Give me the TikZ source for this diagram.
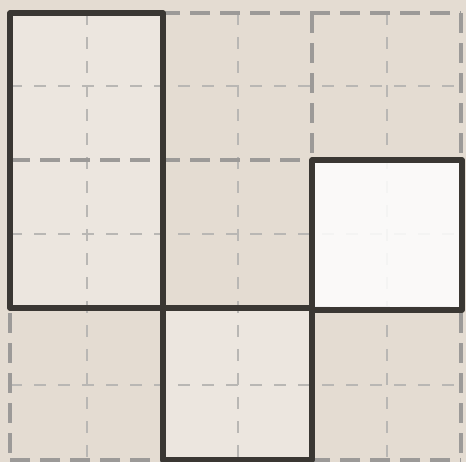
\documentclass[tikz,border=0pt]{standalone}
\usepackage{tikz}
\usepackage{xcolor}
\definecolor{paper}{HTML}{E4DCD2}
\definecolor{ink}{HTML}{3A3733}
\definecolor{gridgray}{HTML}{9C9A98}
\definecolor{finegray}{HTML}{B9B7B4}

\begin{document}
\begin{tikzpicture}[x=0.5mm, y=-0.5mm,
    coarse/.style={gridgray, line width=6pt, dash pattern=on 10mm off 5mm},
    fine/.style={finegray, line width=3pt, dash pattern=on 6mm off 6mm},
    piece/.style={ink, line width=8pt, line join=round, line cap=round}]
    \fill[paper] (0,0) rectangle (466,462);
    \useasboundingbox (0,0) rectangle (466,462);
    \fill[white, opacity=0.3] (10,13) rectangle (163,308);
    \fill[white, opacity=0.3] (163,308) rectangle (312,460);
    \foreach \x in {87,238,387}
        \draw[fine] (\x,13) -- (\x,460);
    \foreach \y in {86,234,385}
        \draw[fine] (10,\y) -- (461,\y);
    \foreach \x in {10,163,312,461}
        \draw[coarse] (\x,13) -- (\x,460);
    \foreach \y in {13,160,308,460}
        \draw[coarse] (10,\y) -- (461,\y);
    \fill[white, opacity=0.85] (312,160) rectangle (462,310);
    \draw[piece] (10,13) rectangle (163,308);
    \draw[piece] (312,160) rectangle (462,310);
    \draw[piece] (163,308) rectangle (312,460);
\end{tikzpicture}
\end{document}
